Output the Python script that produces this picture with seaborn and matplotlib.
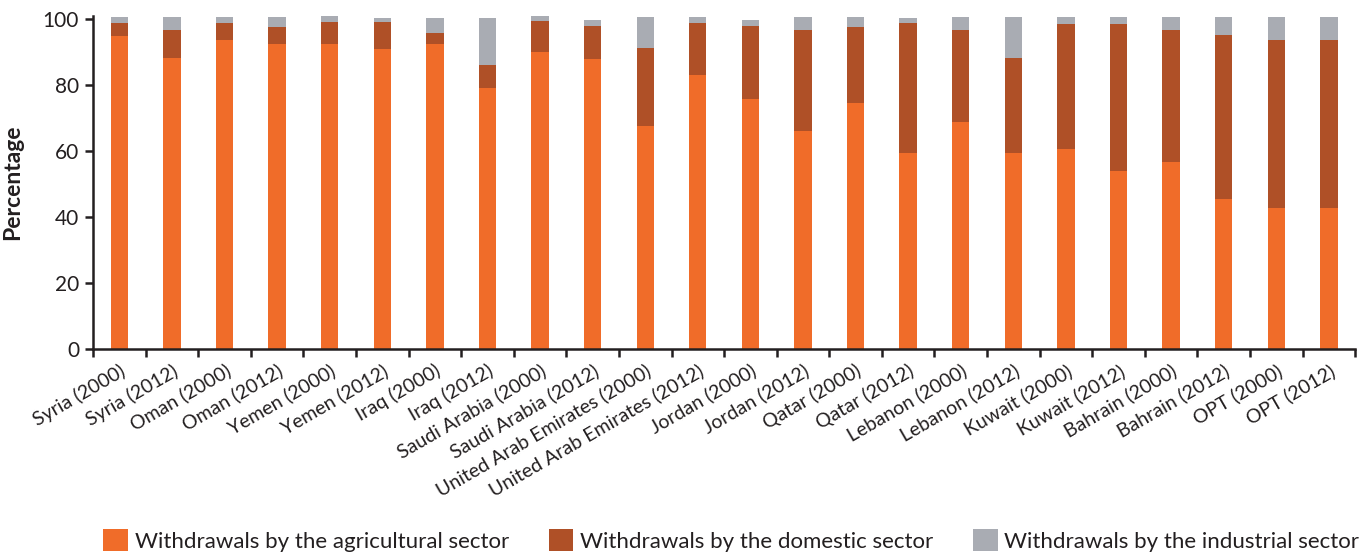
import matplotlib
matplotlib.use("Agg")
import matplotlib.pyplot as plt
import numpy as np
import pandas as pd
import seaborn as sns
from matplotlib.patches import Patch
from matplotlib.ticker import FixedLocator

labels = [
    "Syria (2000)", "Syria (2012)", "Oman (2000)", "Oman (2012)",
    "Yemen (2000)", "Yemen (2012)", "Iraq (2000)", "Iraq (2012)",
    "Saudi Arabia (2000)", "Saudi Arabia (2012)",
    "United Arab Emirates (2000)", "United Arab Emirates (2012)",
    "Jordan (2000)", "Jordan (2012)", "Qatar (2000)", "Qatar (2012)",
    "Lebanon (2000)", "Lebanon (2012)", "Kuwait (2000)", "Kuwait (2012)",
    "Bahrain (2000)", "Bahrain (2012)", "OPT (2000)", "OPT (2012)",
]
agricultural = [94.9, 88.2, 93.7, 92.4, 92.4, 90.9, 92.4, 78.9, 90.0, 87.9,
                67.4, 83.1, 75.8, 65.9, 74.6, 59.5, 68.6, 59.5, 60.7, 53.8,
                56.5, 45.3, 42.6, 42.6]
domestic = [3.9, 8.5, 5.1, 5.2, 6.7, 8.2, 3.4, 7.2, 9.4, 10.0,
            23.8, 15.7, 22.1, 30.8, 23.0, 39.3, 28.1, 28.7, 37.8, 44.7,
            40.2, 49.9, 51.1, 51.1]
industrial = [1.8, 3.9, 1.8, 3.0, 2.1, 1.2, 4.5, 14.2, 1.8, 1.8,
              9.4, 1.8, 1.8, 3.9, 3.0, 1.5, 3.9, 12.4, 2.1, 2.1,
              3.9, 5.4, 6.9, 6.9]
series_names = [
    "Withdrawals by the agricultural sector",
    "Withdrawals by the domestic sector",
    "Withdrawals by the industrial sector",
]
colors = ["#F06C29", "#AF5027", "#A9ACB3"]

df = pd.DataFrame({
    "label": labels,
    "agri": agricultural,
    "dom": domestic,
    "ind": industrial,
})
df["agri_dom"] = df["agri"] + df["dom"]
df["total"] = df["agri_dom"] + df["ind"]

sns.set_style("white")
plt.rcParams["font.family"] = ["Lato", "DejaVu Sans"]
text_color = "#231F20"

fig, ax = plt.subplots(figsize=(13.62, 5.55), dpi=100)
fig.subplots_adjust(left=0.0683, right=0.995, top=0.971, bottom=0.371)

# stacked look: draw cumulative heights from tallest to shortest
for col, color in zip(["total", "agri_dom", "agri"], colors[::-1]):
    sns.barplot(data=df, x="label", y=col, color=color, saturation=1,
                width=0.33, ax=ax, order=labels, linewidth=0, edgecolor="none")

ax.set_xlim(-0.5, len(labels) - 0.5)
ax.set_ylim(0, 100.8)
ax.set_yticks([0, 20, 40, 60, 80, 100])
ax.set_ylabel("Percentage", fontsize=16.5, fontweight="bold", color=text_color)
ax.yaxis.set_label_coords(-0.055, 0.5)
ax.set_xlabel("")

ax.set_xticks(np.arange(len(labels)))
ax.set_xticklabels(labels, rotation=30, ha="right", rotation_mode="anchor",
                   fontsize=14, color=text_color)
ax.xaxis.set_minor_locator(FixedLocator(np.arange(len(labels) + 1) - 0.5))
ax.tick_params(axis="x", which="major", length=0, pad=9)
ax.tick_params(axis="x", which="minor", length=6, width=1.8, color=text_color,
               direction="out", bottom=True)
ax.tick_params(axis="y", length=6, width=1.8, color=text_color, direction="out",
               labelsize=15, labelcolor=text_color, left=True, pad=4)

for side in ["top", "right"]:
    ax.spines[side].set_visible(False)
for side in ["left", "bottom"]:
    ax.spines[side].set_color(text_color)
    ax.spines[side].set_linewidth(1.8)

handles = [Patch(facecolor=c, edgecolor="none") for c in colors]
fig.legend(handles, series_names, loc="lower center", ncol=3,
           bbox_to_anchor=(0.537, -0.03), frameon=False, fontsize=16,
           handlelength=1.1, handleheight=1.1, handletextpad=0.3,
           columnspacing=1.8, labelcolor=text_color)

fig.savefig("out.png", dpi=100)
